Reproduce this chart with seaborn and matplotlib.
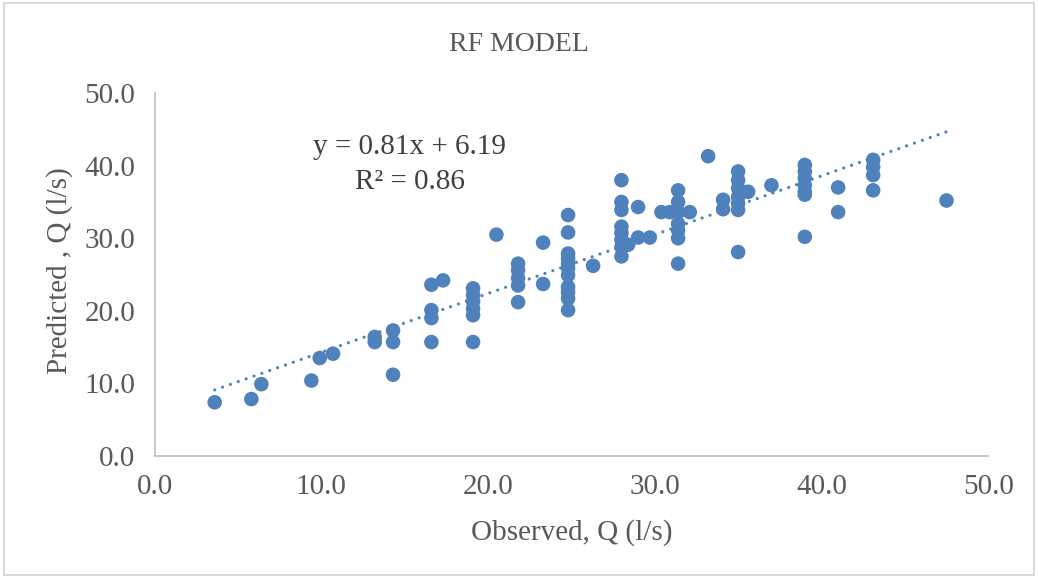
import matplotlib
matplotlib.use("Agg")
import matplotlib.pyplot as plt
from matplotlib.patches import Rectangle
import numpy as np
import pandas as pd
import seaborn as sns

# Observed vs predicted discharge (l/s), grouped by observed value
observed = [
    3.6, 5.8, 6.4, 9.4, 9.9, 10.7,
    13.2, 13.2, 14.3, 14.3, 14.3,
    16.6, 16.6, 16.6, 16.6, 17.3,
    19.1, 19.1, 19.1, 19.1, 19.1, 19.1,
    20.5,
    21.8, 21.8, 21.8, 21.8, 21.8,
    23.3, 23.3,
    24.8, 24.8, 24.8, 24.8, 24.8, 24.8, 24.8, 24.8, 24.8, 24.8, 24.8,
    26.3,
    28.0, 28.0, 28.0, 28.0, 28.0, 28.0, 28.0, 28.0,
    28.4, 29.0, 29.0, 29.7, 30.4, 30.9,
    31.4, 31.4, 31.4, 31.4, 31.4, 31.4, 31.4,
    32.1, 33.2, 34.1, 34.1,
    35.0, 35.0, 35.0, 35.0, 35.0, 35.0, 35.0,
    35.6, 37.0,
    39.0, 39.0, 39.0, 39.0, 39.0, 39.0, 39.0,
    41.0, 41.0,
    43.1, 43.1, 43.1, 43.1,
    47.5,
]
predicted = [
    7.4, 7.85, 9.9, 10.4, 13.5, 14.1,
    16.4, 15.7, 17.3, 15.7, 11.2,
    23.6, 20.1, 19.0, 15.7, 24.2,
    23.1, 22.2, 21.3, 20.3, 19.4, 15.7,
    30.5,
    26.5, 25.6, 24.5, 23.5, 21.2,
    29.4, 23.7,
    33.2, 30.8, 27.9, 27.2, 26.5, 25.9, 24.9, 23.3, 22.6, 21.7, 20.1,
    26.2,
    38.0, 35.0, 33.9, 31.6, 30.7, 29.8, 28.8, 27.5,
    29.1, 34.3, 30.1, 30.1, 33.6, 33.6,
    36.6, 35.0, 33.6, 32.0, 31.1, 30.0, 26.5,
    33.6, 41.3, 35.3, 34.0,
    39.2, 38.0, 36.9, 35.7, 34.8, 33.9, 28.1,
    36.4, 37.3,
    40.1, 39.2, 38.3, 37.3, 36.4, 36.0, 30.2,
    37.0, 33.6,
    40.8, 39.8, 38.7, 36.6,
    35.2,
]

# Linear trendline coefficients shown on the chart
slope = 0.81
intercept = 6.19
r_squared = 0.86

ticks = [0, 10, 20, 30, 40, 50]
tick_labels = ["0.0", "10.0", "20.0", "30.0", "40.0", "50.0"]

df = pd.DataFrame({"Observed": observed, "Predicted": predicted})

sns.set_theme(style="white")
plt.rcParams["font.family"] = ["Liberation Serif", "DejaVu Serif"]

text_color = "#595959"
dot_color = "#4F81BD"
edge_gray = "#BFBFBF"

fig = plt.figure(figsize=(10.38, 5.78), dpi=100)
ax = fig.add_axes([0.149, 0.211, 0.803, 0.628])

sns.scatterplot(data=df, x="Observed", y="Predicted", ax=ax,
                s=110, color=dot_color, edgecolor="none", linewidth=0, zorder=3)

# Dotted linear trendline over the observed range
xs = np.array([min(observed), max(observed)])
ax.plot(xs, slope * xs + intercept, linestyle=(0, (0.01, 2.6)), color=dot_color,
        linewidth=2.3, dash_capstyle="round", solid_capstyle="round", zorder=2)

ax.set_xlim(0, 50)
ax.set_ylim(0, 50)
ax.set_xticks(ticks)
ax.set_xticklabels(tick_labels)
ax.set_yticks(ticks)
ax.set_yticklabels(tick_labels)
ax.tick_params(axis="both", length=0, labelsize=21, labelcolor=text_color)
ax.tick_params(axis="x", pad=13)
ax.tick_params(axis="y", pad=14)

for side in ("top", "right"):
    ax.spines[side].set_visible(False)
for side in ("left", "bottom"):
    ax.spines[side].set_color(edge_gray)
    ax.spines[side].set_linewidth(1.2)

ax.set_xlabel("Observed, Q (l/s)", fontsize=21, color=text_color)
ax.set_ylabel("Predicted , Q (l/s)", fontsize=21, color=text_color)
ax.xaxis.set_label_coords(0.5, -0.212)
ax.yaxis.set_label_coords(-0.114, 0.51)
ax.xaxis.label.set_va("center")
ax.yaxis.label.set_va("center")
ax.grid(False)

ax.text(15.3, 42.6, f"y = {slope:.2f}x + {intercept:.2f}", ha="center", va="center",
        fontsize=21, color="#404040")
ax.text(15.3, 37.8, f"R² = {r_squared:.2f}", ha="center", va="center",
        fontsize=21, color="#404040")

fig.text(0.5, 0.923, "RF MODEL", ha="center", va="center", fontsize=20, color=text_color)

fig.patches.append(Rectangle((0.004, 0.006), 0.992, 0.988, transform=fig.transFigure,
                             fill=False, edgecolor="#D9D9D9", linewidth=1.5))

fig.savefig("out.png", dpi=100, facecolor="white")
